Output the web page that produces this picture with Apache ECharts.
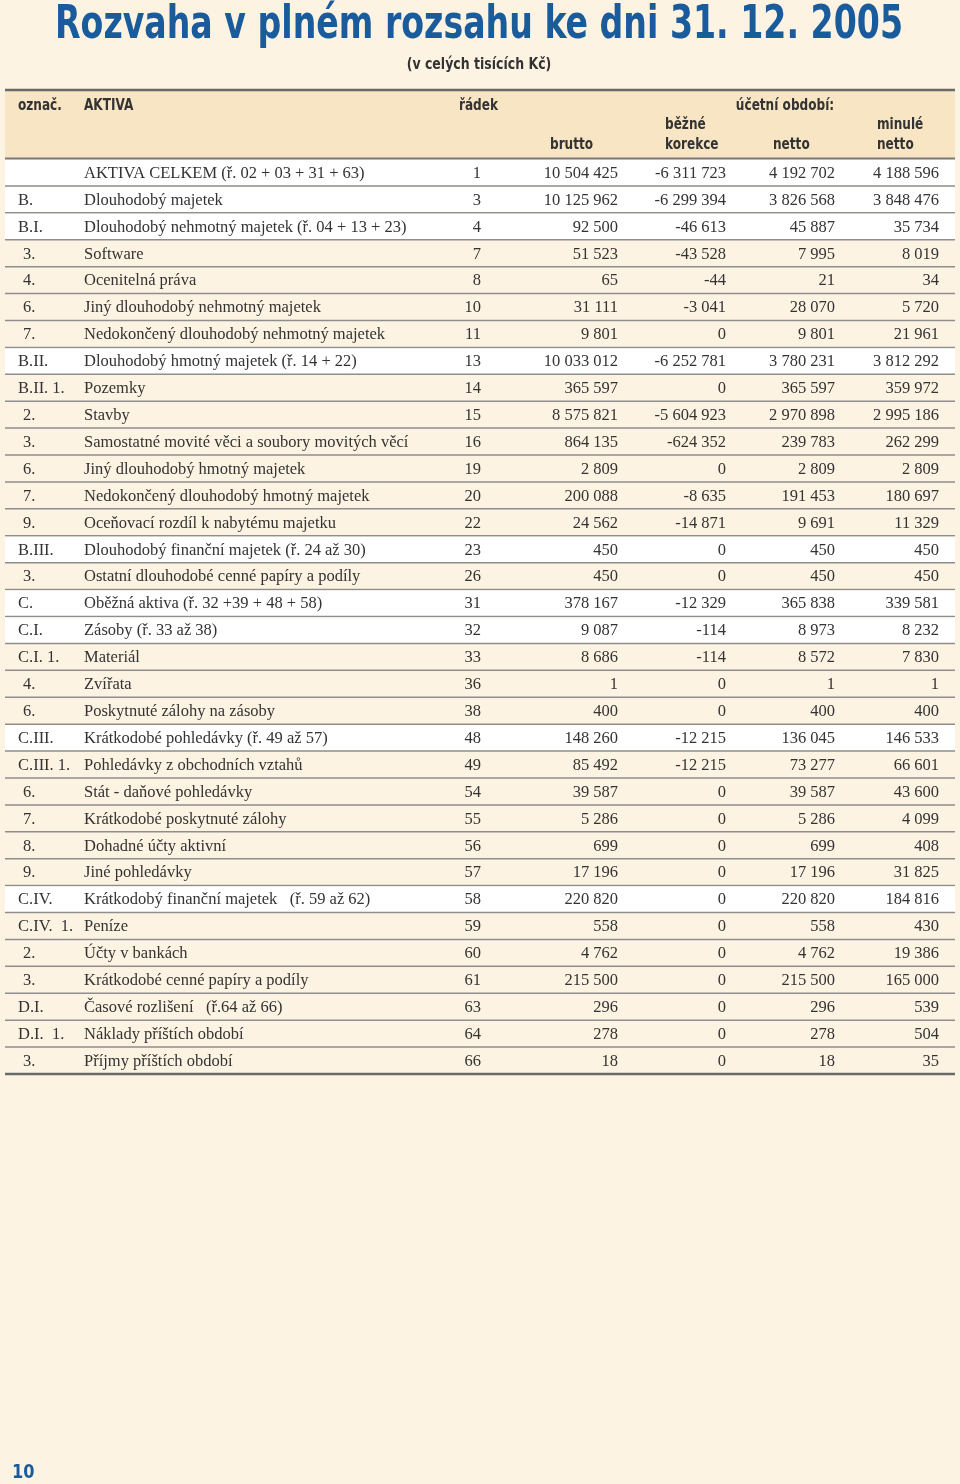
<!DOCTYPE html>
<html><head><meta charset="utf-8">
<script src="https://cdn.jsdelivr.net/npm/echarts@6/dist/echarts.min.js"></script>
<style>html,body{margin:0;padding:0;background:#fdf3e2;}#c{width:960px;height:1484px;}</style>
</head><body><div id="c"></div>
<script>
const title = 'Rozvaha v plném rozsahu ke dni 31. 12. 2005';
const subtitle = '(v celých tisících Kč)';
const pageNo = '10';
const codes = ['', 'B.', 'B.I.', '3.', '4.', '6.', '7.', 'B.II.', 'B.II. 1.', '2.', '3.', '6.', '7.', '9.', 'B.III.', '3.', 'C.', 'C.I.', 'C.I. 1.', '4.', '6.', 'C.III.', 'C.III. 1.', '6.', '7.', '8.', '9.', 'C.IV.', 'C.IV.  1.', '2.', '3.', 'D.I.', 'D.I.  1.', '3.'];
const names = ['AKTIVA CELKEM (ř. 02 + 03 + 31 + 63)', 'Dlouhodobý majetek', 'Dlouhodobý nehmotný majetek (ř. 04 + 13 + 23)', 'Software', 'Ocenitelná práva', 'Jiný dlouhodobý nehmotný majetek', 'Nedokončený dlouhodobý nehmotný majetek', 'Dlouhodobý hmotný majetek (ř. 14 + 22)', 'Pozemky', 'Stavby', 'Samostatné movité věci a soubory movitých věcí', 'Jiný dlouhodobý hmotný majetek', 'Nedokončený dlouhodobý hmotný majetek', 'Oceňovací rozdíl k nabytému majetku', 'Dlouhodobý finanční majetek (ř. 24 až 30)', 'Ostatní dlouhodobé cenné papíry a podíly', 'Oběžná aktiva (ř. 32 +39 + 48 + 58)', 'Zásoby (ř. 33 až 38)', 'Materiál', 'Zvířata', 'Poskytnuté zálohy na zásoby', 'Krátkodobé pohledávky (ř. 49 až 57)', 'Pohledávky z obchodních vztahů', 'Stát - daňové pohledávky', 'Krátkodobé poskytnuté zálohy', 'Dohadné účty aktivní', 'Jiné pohledávky', 'Krátkodobý finanční majetek   (ř. 59 až 62)', 'Peníze', 'Účty v bankách', 'Krátkodobé cenné papíry a podíly', 'Časové rozlišení   (ř.64 až 66)', 'Náklady příštích období', 'Příjmy příštích období'];
const lineNos = [1,3,4,7,8,10,11,13,14,15,16,19,20,22,23,26,31,32,33,36,38,48,49,54,55,56,57,58,59,60,61,63,64,66];
const brutto = [10504425,10125962,92500,51523,65,31111,9801,10033012,365597,8575821,864135,2809,200088,24562,450,450,378167,9087,8686,1,400,148260,85492,39587,5286,699,17196,220820,558,4762,215500,296,278,18];
const korekce = [-6311723,-6299394,-46613,-43528,-44,-3041,0,-6252781,0,-5604923,-624352,0,-8635,-14871,0,0,-12329,-114,-114,0,0,-12215,-12215,0,0,0,0,0,0,0,0,0,0,0];
const netto = [4192702,3826568,45887,7995,21,28070,9801,3780231,365597,2970898,239783,2809,191453,9691,450,450,365838,8973,8572,1,400,136045,73277,39587,5286,699,17196,220820,558,4762,215500,296,278,18];
const minule = [4188596,3848476,35734,8019,34,5720,21961,3812292,359972,2995186,262299,2809,180697,11329,450,450,339581,8232,7830,1,400,146533,66601,43600,4099,408,31825,184816,430,19386,165000,539,504,35];
const summaryRows = [0,1,2,7,14,16,17,21,27];

function fmt(v){
  const s = String(Math.abs(v)).replace(/\B(?=(\d{3})+(?!\d))/g, ' ');
  return (v < 0 ? '-' : '') + s;
}

const BLUE = '#1a5b9c';
const TXT = '#333333';
const SERIF = '"Liberation Serif", serif';
const SANS = '"DejaVu Sans Condensed", "DejaVu Sans", sans-serif';
const N = names.length;

const ctx = document.createElement('canvas').getContext('2d');
function measure(text, font){ ctx.font = font; return ctx.measureText(text).width; }
const titleFont = 'bold 47px ' + SANS;
const titleScale = 848 / measure(title, titleFont);
const HS = 0.84;

const chart = echarts.init(document.getElementById('c'), null, {renderer: 'canvas'});

function hdr(text, x, y, align){
  return {type: 'text', x: x, y: y, scaleX: HS, style: {text: text, fill: TXT, font: 'bold 16px ' + SANS, textAlign: align || 'left', textVerticalAlign: 'middle'}};
}

const option = {
  backgroundColor: '#fdf3e2',
  animation: false,
  grid: {left: 0, right: 0, top: 159, height: 915, containLabel: false},
  xAxis: {type: 'value', min: 0, max: 960, show: false},
  yAxis: {type: 'category', data: names.map((_, i) => i), inverse: true, show: false},
  graphic: [
    {type: 'text', x: 479, y: 26, scaleX: titleScale, style: {text: title, fill: BLUE, font: titleFont, textAlign: 'center', textVerticalAlign: 'middle'}},
    {type: 'text', x: 479, y: 65, scaleX: 0.87, style: {text: subtitle, fill: TXT, font: 'bold 16px ' + SANS, textAlign: 'center', textVerticalAlign: 'middle'}},
    {type: 'rect', shape: {x: 5, y: 90, width: 950, height: 68}, style: {fill: '#f7e5c3'}},
    {type: 'line', shape: {x1: 5, y1: 90, x2: 955, y2: 90}, style: {stroke: '#6a6a6a', lineWidth: 2.5}},
    {type: 'line', shape: {x1: 5, y1: 158.5, x2: 955, y2: 158.5}, style: {stroke: '#7a7a7a', lineWidth: 2}},
    hdr('označ.', 18, 106), hdr('AKTIVA', 84, 106), hdr('řádek', 459, 106),
    hdr('účetní období:', 785, 106, 'center'),
    hdr('brutto', 550, 145), hdr('běžné', 665, 125), hdr('korekce', 665, 145),
    hdr('netto', 773, 145), hdr('minulé', 877, 125), hdr('netto', 877, 145),
    {type: 'text', x: 12, y: 1473, scaleX: 0.9, style: {text: pageNo, fill: BLUE, font: 'bold 20px ' + SANS, textVerticalAlign: 'middle'}}
  ],
  series: [{
    type: 'custom',
    data: names.map((_, i) => [i]),
    encode: {y: 0},
    clip: false,
    renderItem: function(params, api){
      const i = api.value(0);
      const c = api.coord([0, i]);
      const band = api.size([0, 1])[1];
      const y0 = c[1] - band / 2, y1 = c[1] + band / 2;
      const X = v => api.coord([v, i])[0];
      const last = i === N - 1;
      const children = [];
      if (summaryRows.indexOf(i) >= 0) {
        children.push({type: 'rect', shape: {x: X(5), y: y0 + 1, width: X(955) - X(5), height: band - 1.5}, style: {fill: '#ffffff'}});
      }
      children.push({type: 'line', shape: {x1: X(5), y1: y1, x2: X(955), y2: y1}, style: {stroke: last ? '#6a6a6a' : '#8e8e8e', lineWidth: last ? 2.5 : 1.5}});
      const t = (text, x, align) => ({type: 'text', x: x, y: c[1] + 1, style: {text: text, fill: TXT, font: '16.5px ' + SERIF, textAlign: align, textVerticalAlign: 'middle'}});
      const code = codes[i];
      const codeX = /^\d/.test(code) ? X(23) : X(18);
      children.push(t(code, codeX, 'left'));
      children.push(t(names[i], X(84), 'left'));
      children.push(t(String(lineNos[i]), X(481), 'right'));
      children.push(t(fmt(brutto[i]), X(618), 'right'));
      children.push(t(fmt(korekce[i]), X(726), 'right'));
      children.push(t(fmt(netto[i]), X(835), 'right'));
      children.push(t(fmt(minule[i]), X(939), 'right'));
      return {type: 'group', children: children};
    }
  }]
};
chart.setOption(option);
</script>
</body></html>
